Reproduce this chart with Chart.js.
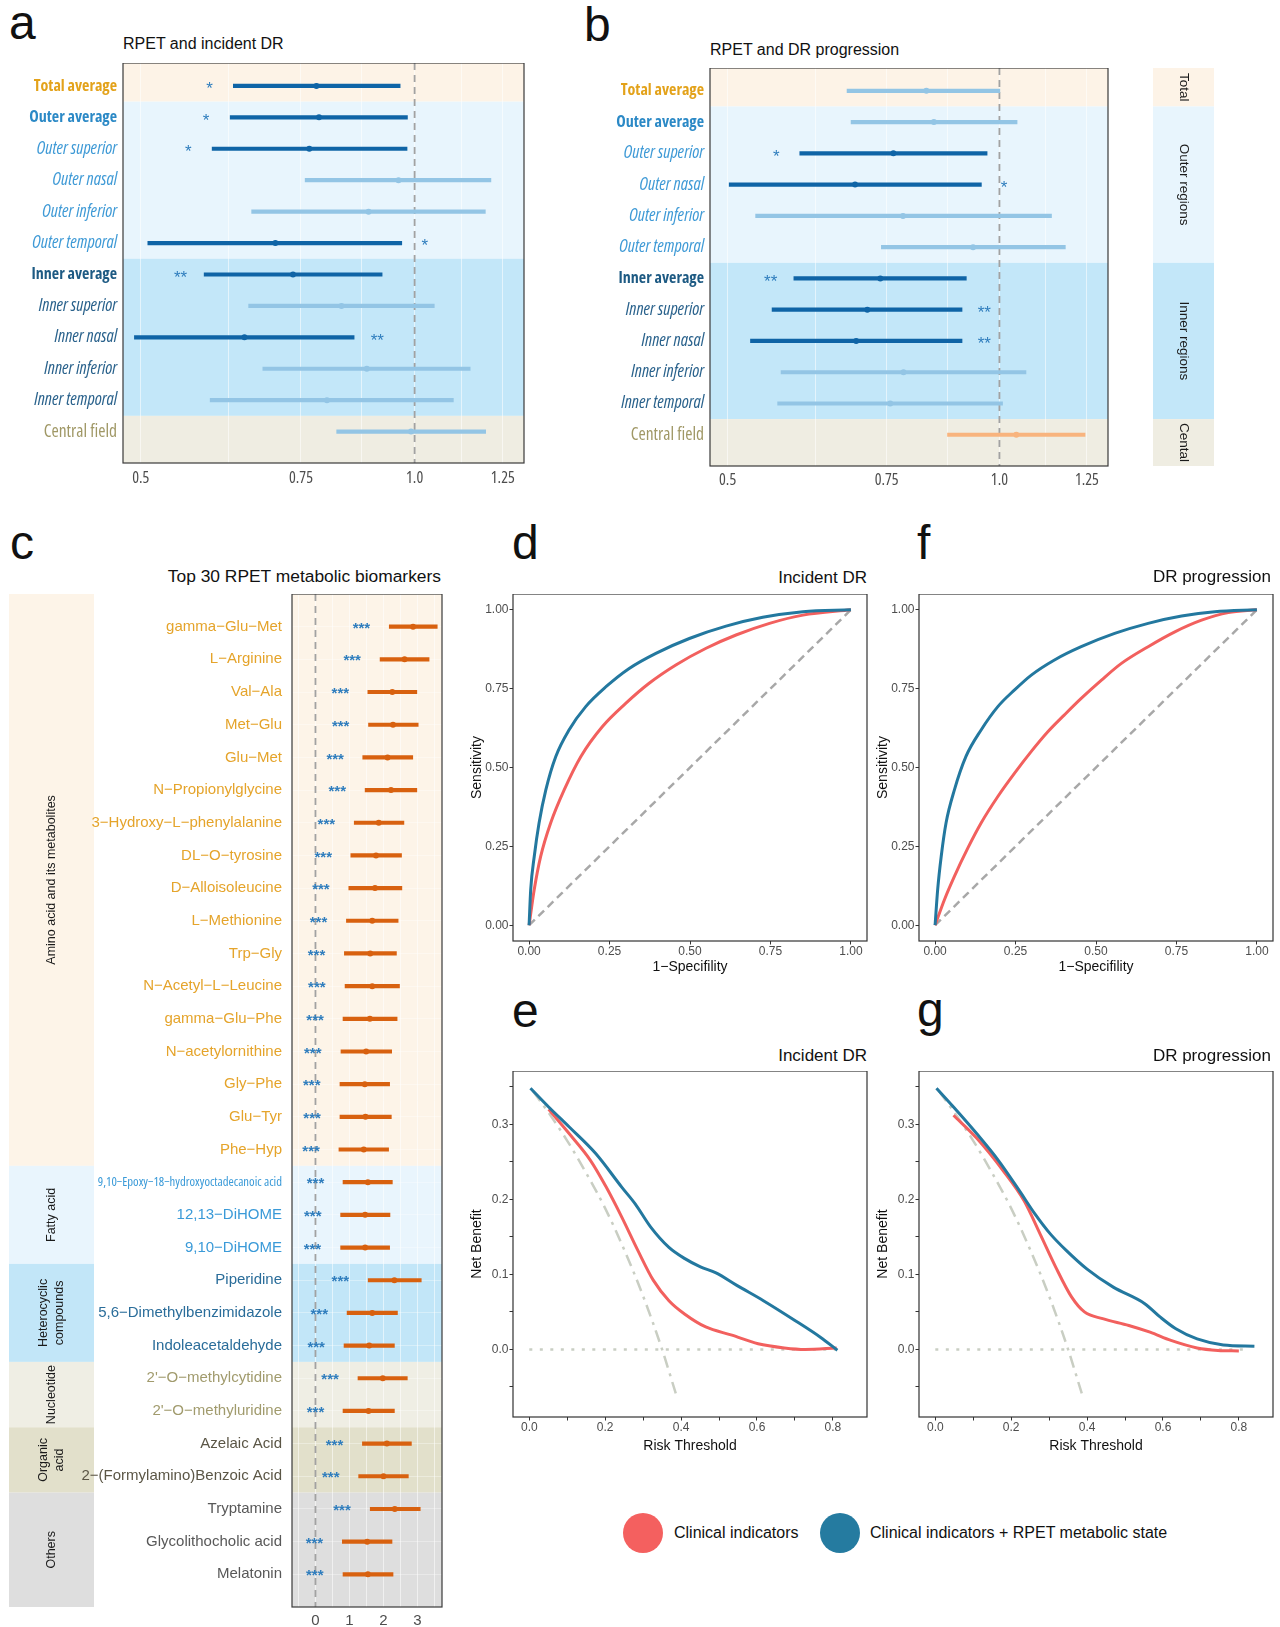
<!DOCTYPE html>
<html>
<head>
<meta charset="utf-8">
<title>RPET figure</title>
<script src="https://cdn.jsdelivr.net/npm/chart.js@4.4.1/dist/chart.umd.min.js"></script>
<style>
  html, body { margin: 0; background: #fff; }
  body { position: relative; width: 1280px; height: 1627px; overflow: hidden; font-family: "Liberation Sans", Arial, sans-serif; }
  canvas { position: absolute; }
  .t { position: absolute; white-space: nowrap; color: #111; }
  .dot { position: absolute; width: 40px; height: 40px; border-radius: 50%; }
</style>
</head>
<body>
<canvas id="pa" width="532" height="430" style="left:0;top:63px"></canvas>
<canvas id="pb" width="660" height="428" style="left:560px;top:68px"></canvas>
<canvas id="pc" width="447" height="1033" style="left:0;top:594px"></canvas>
<canvas id="pd" width="414" height="387" style="left:455px;top:594px"></canvas>
<canvas id="pf" width="414" height="387" style="left:861px;top:594px"></canvas>
<canvas id="pe" width="414" height="386" style="left:455px;top:1071px"></canvas>
<canvas id="pg" width="414" height="386" style="left:861px;top:1071px"></canvas>
<div class="dot" style="left:623px;top:1513px;background:#f4605f"></div>
<div class="dot" style="left:820px;top:1513px;background:#257ba0"></div>
<script>
// a / b: hazard ratios of RPET by retinal region
const regions = ['Total average', 'Outer average', 'Outer superior', 'Outer nasal', 'Outer inferior', 'Outer temporal',
  'Inner average', 'Inner superior', 'Inner nasal', 'Inner inferior', 'Inner temporal', 'Central field'];
const regionGroups = ['Total', 'Outer regions', 'Inner regions', 'Cental'];
const regionGroupEnds = [1, 6, 11, 12];
const hrTicks = [0.5, 0.625, 0.75, 0.875, 1, 1.125, 1.25];
const hrLabels = ['0.5', '', '0.75', '', '1.0', '', '1.25'];

const incEst = [0.780, 0.785, 0.766, 0.960, 0.890, 0.703, 0.735, 0.831, 0.650, 0.886, 0.801, 0.991];
const incLow = [0.632, 0.627, 0.599, 0.758, 0.662, 0.509, 0.587, 0.657, 0.492, 0.681, 0.596, 0.821];
const incHigh = [0.964, 0.982, 0.981, 1.213, 1.196, 0.968, 0.921, 1.051, 0.858, 1.151, 1.103, 1.197];
const incSig = ['*', '*', '*', '', '', '*', '**', '', '**', '', '', ''];
const incSigAt = [0.595, 0.590, 0.564, null, null, 1.026, 0.553, null, 0.910, null, null, null];

const progEst = [0.830, 0.846, 0.763, 0.692, 0.782, 0.935, 0.738, 0.714, 0.694, 0.783, 0.757, 1.044];
const progLow = [0.678, 0.685, 0.601, 0.502, 0.537, 0.740, 0.592, 0.560, 0.530, 0.573, 0.568, 0.876];
const progHigh = [1.001, 1.046, 0.969, 0.955, 1.142, 1.183, 0.919, 0.909, 0.909, 1.070, 1.008, 1.244];
const progSig = ['', '', '*', '*', '', '', '**', '**', '**', '', '', ''];
const progSigAt = [null, null, 0.566, 1.012, null, null, 0.558, 0.962, 0.962, null, null, null];

// c: top 30 metabolites
const metabolites = ['gamma−Glu−Met', 'L−Arginine', 'Val−Ala', 'Met−Glu', 'Glu−Met', 'N−Propionylglycine',
  '3−Hydroxy−L−phenylalanine', 'DL−O−tyrosine', 'D−Alloisoleucine', 'L−Methionine', 'Trp−Gly', 'N−Acetyl−L−Leucine',
  'gamma−Glu−Phe', 'N−acetylornithine', 'Gly−Phe', 'Glu−Tyr', 'Phe−Hyp', '9,10−Epoxy−18−hydroxyoctadecanoic acid',
  '12,13−DiHOME', '9,10−DiHOME', 'Piperidine', '5,6−Dimethylbenzimidazole', 'Indoleacetaldehyde',
  "2'−O−methylcytidine", "2'−O−methyluridine", 'Azelaic Acid', '2−(Formylamino)Benzoic Acid', 'Tryptamine',
  'Glycolithocholic acid', 'Melatonin'];
const metaEst = [2.87, 2.62, 2.26, 2.28, 2.12, 2.22, 1.86, 1.78, 1.75, 1.67, 1.61, 1.67, 1.60, 1.49, 1.45, 1.47, 1.42,
  1.54, 1.46, 1.46, 2.32, 1.67, 1.58, 1.98, 1.56, 2.10, 2.00, 2.33, 1.52, 1.54];
const metaLow = [2.17, 1.90, 1.54, 1.56, 1.39, 1.46, 1.14, 1.04, 0.98, 0.91, 0.85, 0.87, 0.81, 0.75, 0.72, 0.72, 0.69,
  0.81, 0.74, 0.74, 1.55, 0.93, 0.84, 1.25, 0.81, 1.38, 1.27, 1.61, 0.79, 0.81];
const metaHigh = [3.58, 3.34, 2.98, 3.02, 2.86, 2.98, 2.60, 2.53, 2.54, 2.43, 2.38, 2.47, 2.40, 2.24, 2.18, 2.23, 2.15,
  2.26, 2.19, 2.18, 3.11, 2.41, 2.32, 2.70, 2.32, 2.82, 2.73, 3.08, 2.25, 2.28];
const metaSig = metabolites.map(() => '***');
const metaSigAt = [1.35, 1.08, 0.73, 0.74, 0.58, 0.64, 0.32, 0.23, 0.16, 0.09, 0.03, 0.04, -0.01, -0.08, -0.11, -0.10,
  -0.13, 0.0, -0.08, -0.09, 0.73, 0.11, 0.02, 0.43, 0.0, 0.56, 0.45, 0.78, -0.03, -0.02];
const metaClasses = ['Amino acid and its metabolites', 'Fatty acid', 'Heterocyclic\ncompounds', 'Nucleotide', 'Organic\nacid', 'Others'];
const metaClassEnds = [17, 20, 23, 25, 27, 30];
const metaTicks = [-0.5, 0, 0.5, 1, 1.5, 2, 2.5, 3, 3.5];
const metaTickLabels = ['', '0', '', '1', '', '2', '', '3', ''];

// d / f: ROC curves
const rocTicks = [0, 0.25, 0.5, 0.75, 1];
const rocTickLabels = ['0.00', '0.25', '0.50', '0.75', '1.00'];
const rocIncBaseX = [0, 0.016, 0.036, 0.067, 0.109, 0.161, 0.228, 0.301, 0.373, 0.456, 0.55, 0.643, 0.747, 0.851, 1];
const rocIncBaseY = [0, 0.113, 0.218, 0.324, 0.429, 0.535, 0.63, 0.704, 0.767, 0.825, 0.878, 0.92, 0.957, 0.983, 1];
const rocIncFullX = [0, 0.005, 0.016, 0.031, 0.052, 0.083, 0.124, 0.176, 0.239, 0.311, 0.394, 0.498, 0.612, 0.726, 0.851, 1];
const rocIncFullY = [0, 0.113, 0.218, 0.324, 0.429, 0.535, 0.619, 0.693, 0.756, 0.814, 0.862, 0.909, 0.948, 0.976, 0.994, 1];
const rocProgBaseX = [0, 0.029, 0.06, 0.102, 0.143, 0.195, 0.247, 0.299, 0.351, 0.402, 0.454, 0.517, 0.579, 0.662, 0.745, 0.828, 0.911, 1];
const rocProgBaseY = [0, 0.081, 0.155, 0.245, 0.324, 0.408, 0.482, 0.551, 0.614, 0.667, 0.719, 0.777, 0.83, 0.883, 0.93, 0.967, 0.991, 1];
const rocProgFullX = [0, 0.008, 0.019, 0.034, 0.06, 0.096, 0.143, 0.195, 0.247, 0.299, 0.371, 0.454, 0.558, 0.662, 0.766, 0.869, 1];
const rocProgFullY = [0, 0.113, 0.218, 0.324, 0.429, 0.535, 0.619, 0.693, 0.746, 0.793, 0.841, 0.883, 0.925, 0.957, 0.98, 0.994, 1];
const rocChanceX = [0, 1];
const rocChanceY = [0, 1];

// e / g: decision curves
const dcaXTicks = [0, 0.1, 0.2, 0.3, 0.4, 0.5, 0.6, 0.7, 0.8];
const dcaXLabels = ['0.0', '', '0.2', '', '0.4', '', '0.6', '', '0.8'];
const dcaYTicks = [-0.05, 0, 0.05, 0.1, 0.15, 0.2, 0.25, 0.3, 0.35];
const dcaYLabels = ['', '0.0', '', '0.1', '', '0.2', '', '0.3', ''];
const dcaIncFullX = [0.003, 0.051, 0.106, 0.175, 0.244, 0.279, 0.32, 0.368, 0.41, 0.451, 0.492, 0.548, 0.617, 0.699, 0.768, 0.812];
const dcaIncFullY = [0.348, 0.323, 0.296, 0.261, 0.216, 0.194, 0.163, 0.136, 0.121, 0.11, 0.102, 0.085, 0.065, 0.039, 0.016, -0.001];
const dcaIncBaseX = [0.051, 0.106, 0.161, 0.203, 0.244, 0.286, 0.327, 0.368, 0.41, 0.465, 0.534, 0.603, 0.672, 0.727, 0.81];
const dcaIncBaseY = [0.320, 0.287, 0.252, 0.216, 0.176, 0.132, 0.092, 0.065, 0.047, 0.030, 0.019, 0.0075, 0.002, 0.0, 0.002];
const dcaProgFullX = [0.003, 0.048, 0.11, 0.166, 0.221, 0.262, 0.303, 0.345, 0.4, 0.469, 0.552, 0.593, 0.634, 0.69, 0.759, 0.841];
const dcaProgFullY = [0.348, 0.323, 0.287, 0.252, 0.212, 0.181, 0.154, 0.132, 0.107, 0.083, 0.061, 0.043, 0.0275, 0.014, 0.006, 0.0044];
const dcaProgBaseX = [0.048, 0.11, 0.179, 0.234, 0.276, 0.317, 0.359, 0.393, 0.441, 0.51, 0.566, 0.621, 0.69, 0.745, 0.8];
const dcaProgBaseY = [0.312, 0.281, 0.238, 0.198, 0.154, 0.110, 0.070, 0.050, 0.041, 0.032, 0.023, 0.012, 0.002, -0.0013, -0.002];
const dcaAllX = [0.01, 0.05, 0.1, 0.15, 0.2, 0.25, 0.3, 0.35, 0.388];
const dcaAllY = [0.344, 0.316, 0.278, 0.235, 0.188, 0.133, 0.071, 0.0, -0.062];
const dcaIncNoneX = [0, 0.82];
const dcaProgNoneX = [0, 0.83];
const dcaNoneY = [0, 0];

const legendNames = ['Clinical indicators', 'Clinical indicators + RPET metabolic state'];

// ---- styles ----
const SANS = '"Liberation Sans", Arial, sans-serif';
const DARK = '#0f64a6', LIGHT = '#93c5e5', WARM = '#f8b47e';
const RED = '#f2605e', BLUE = '#23789f';
const STAR = '#2f7dbd';
const regionBands = ['#fdf3e7', '#e8f5fd', '#c3e7f9', '#efede2'];
const regionLabelColors = [['#e3a21a', '#e3a21a'], ['#2b89c6', '#3f9ad6'], ['#1d5a83', '#2a628c'], ['#a09866', '#a09866']];
const metaBands = ['#fdf4e8', '#e9f5fd', '#c2e6f8', '#efeee4', '#e2e0cb', '#dedede'];
const metaLabelColors = ['#e5a42b', '#3a9ad8', '#2a6d9a', '#a19b6d', '#5b5646', '#585858'];

// the axis text of a/b is condensed; use a stretched Open Sans when the canvas can do it
const probe = document.createElement('canvas').getContext('2d');
probe.font = '16px "Open Sans"';
const wideW = probe.measureText('Outer superior').width;
probe.font = 'normal normal condensed 16px "Open Sans"';
const HAS_COND = probe.measureText('Outer superior').width < wideW * 0.9;
function narrow(size, weight, style) {
  return HAS_COND
    ? { family: '"Open Sans", sans-serif', size, weight: (weight || 'normal') + ' condensed', style: style || 'normal' }
    : { family: SANS, size: Math.round(size * 0.84), weight: weight || 'normal', style: style || 'normal' };
}

Chart.defaults.animation = false;
Chart.defaults.events = [];
Chart.defaults.font.family = SANS;
Chart.defaults.layout.autoPadding = false;
Chart.defaults.plugins.legend.display = false;
Chart.defaults.plugins.tooltip.enabled = false;

const groupOf = (ends, i) => Math.max(0, ends.findIndex(e => (i || 0) + 1 <= e));
const xy = (xs, ys) => xs.map((x, i) => ({ x, y: ys[i] }));

// fixed axis size and no label overhang padding, so the plot box lands where the canvas says
function fixAxis(size, horizontal) {
  return s => {
    if (horizontal) s.height = size; else s.width = size;
    s.paddingTop = 0; s.paddingBottom = 0; s.paddingLeft = 0; s.paddingRight = 0;
  };
}

function frame(color) {
  return {
    id: 'frame',
    afterDraw(chart) {
      const { ctx, chartArea: a } = chart;
      ctx.save();
      ctx.strokeStyle = color;
      ctx.lineWidth = 1.2;
      ctx.strokeRect(a.left, a.top, a.right - a.left, a.bottom - a.top);
      ctx.restore();
    }
  };
}

// shaded row groups, with an optional labelled strip beside the panel
function bands(ends, colors, strip) {
  return {
    id: 'bands',
    beforeDraw(chart) {
      const { ctx, chartArea: a, scales: { y } } = chart;
      ctx.save();
      ends.forEach((end, i) => {
        const y0 = i === 0 ? a.top : y.getPixelForValue(ends[i - 1] + 0.5);
        const y1 = i === ends.length - 1 ? a.bottom : y.getPixelForValue(end + 0.5);
        ctx.fillStyle = colors[i];
        ctx.fillRect(a.left, y0, a.right - a.left, y1 - y0);
        if (!strip) return;
        const x0 = strip.x0(a), x1 = strip.x1(a);
        ctx.fillRect(x0, y0, x1 - x0, y1 - y0);
        const lines = strip.text[i].split('\n');
        ctx.save();
        ctx.translate((x0 + x1) / 2, (y0 + y1) / 2);
        ctx.rotate(strip.angle);
        ctx.fillStyle = '#1a1a1a';
        ctx.font = strip.font;
        ctx.textAlign = 'center';
        ctx.textBaseline = 'middle';
        lines.forEach((t, k) => ctx.fillText(t, 0, (k - (lines.length - 1) / 2) * strip.lh));
        ctx.restore();
      });
      ctx.restore();
    }
  };
}

function refLine(value) {
  return {
    id: 'refline',
    beforeDatasetsDraw(chart) {
      const { ctx, chartArea: a, scales: { x } } = chart;
      const px = x.getPixelForValue(value);
      ctx.save();
      ctx.strokeStyle = '#a2a2a2';
      ctx.lineWidth = 1.8;
      ctx.setLineDash([7, 5]);
      ctx.beginPath();
      ctx.moveTo(px, a.top);
      ctx.lineTo(px, a.bottom);
      ctx.stroke();
      ctx.restore();
    }
  };
}

function stars(marks, at, font, dy) {
  return {
    id: 'stars',
    afterDatasetsDraw(chart) {
      const { ctx, scales: { x, y } } = chart;
      ctx.save();
      ctx.fillStyle = STAR;
      ctx.font = font + ' ' + SANS;
      ctx.textAlign = 'center';
      ctx.textBaseline = 'middle';
      marks.forEach((m, i) => {
        if (m) ctx.fillText(m, x.getPixelForValue(at[i]), y.getPixelForValue(i + 1) + dy);
      });
      ctx.restore();
    }
  };
}

function forest(id, names, est, low, high, opt) {
  const rows = names.map((_, i) => i + 1);
  return new Chart(document.getElementById(id), {
    type: 'bar',
    data: {
      datasets: [
        { type: 'bar', data: rows.map((r, i) => ({ x: [low[i], high[i]], y: r })), backgroundColor: opt.tone, barThickness: 3.5, borderWidth: 0 },
        { type: 'scatter', data: rows.map((r, i) => ({ x: est[i], y: r })), backgroundColor: opt.tone, pointRadius: 3, borderWidth: 0 }
      ]
    },
    options: {
      responsive: false,
      devicePixelRatio: 1,
      indexAxis: 'y',
      layout: { autoPadding: false, padding: { top: 0, left: 0, bottom: 0, right: opt.padRight } },
      scales: {
        x: {
          type: opt.xType, min: opt.xMin, max: opt.xMax, offset: false,
          afterBuildTicks: s => { s.ticks = opt.xTicks.map(v => ({ value: v })); },
          afterFit: fixAxis(opt.xHeight, true),
          grid: { color: 'rgba(255,255,255,0.55)', drawTicks: false, offset: false },
          border: { display: false },
          ticks: { autoSkip: false, maxRotation: 0, padding: opt.xPad, color: '#4d4d4d', font: opt.xFont, callback: (v, i) => opt.xLabels[i] }
        },
        y: {
          type: 'linear', reverse: true, min: opt.yMin, max: opt.yMax, offset: false,
          afterBuildTicks: s => { s.ticks = rows.map(v => ({ value: v })); },
          afterFit: fixAxis(opt.yWidth, false),
          grid: { display: opt.yGrid, color: 'rgba(255,255,255,0.35)', drawTicks: false, offset: false },
          border: { display: false },
          ticks: { autoSkip: false, padding: opt.yPad, callback: (v, i) => names[i], color: opt.labelColor, font: opt.labelFont }
        }
      }
    },
    plugins: [bands(opt.ends, opt.bandColors, opt.strip), refLine(opt.ref), stars(opt.sig, opt.sigAt, opt.starFont, opt.starDy), frame('#3a3a3a')]
  });
}

function regionOptions(est, sig, sigAt, extra) {
  return Object.assign({
    tone: est.map((e, i) => sig[i] ? DARK : (e > 1 ? WARM : LIGHT)),
    xType: 'logarithmic', xMin: 0.478, xMax: 1.319, xTicks: hrTicks, xLabels: hrLabels,
    xHeight: 30, xPad: 6, xFont: narrow(16),
    yMin: 0.27, yMax: 13.0, yPad: 6, yGrid: false,
    labelColor: c => {
      const g = groupOf(regionGroupEnds, c.index);
      return regionLabelColors[g][/average/.test(regions[c.index] || '') ? 0 : 1];
    },
    labelFont: c => {
      const g = groupOf(regionGroupEnds, c.index);
      const avg = /average/.test(regions[c.index] || '');
      return avg ? narrow(16, 'bold') : narrow(17.5, 'normal', (g === 1 || g === 2) ? 'italic' : 'normal');
    },
    ends: regionGroupEnds, bandColors: regionBands, ref: 1,
    sig, sigAt, starFont: '17px', starDy: 3.5
  }, extra);
}

forest('pa', regions, incEst, incLow, incHigh, regionOptions(incEst, incSig, incSigAt, { padRight: 8, yWidth: 123, strip: null }));

forest('pb', regions, progEst, progLow, progHigh, regionOptions(progEst, progSig, progSigAt, {
  padRight: 112, yWidth: 150, xPad: 5,
  strip: { x0: a => a.right + 45, x1: a => a.right + 106, text: regionGroups, angle: Math.PI / 2, font: '13.5px ' + SANS, lh: 16 }
}));

forest('pc', metabolites, metaEst, metaLow, metaHigh, {
  tone: metabolites.map(() => '#d8610f'),
  xType: 'linear', xMin: -0.69, xMax: 3.72, xTicks: metaTicks, xLabels: metaTickLabels,
  xHeight: 20, xPad: 5, xFont: { family: SANS, size: 15 },
  yMin: 0, yMax: 31, yPad: 10, yWidth: 292, yGrid: true, padRight: 5,
  labelColor: c => metaLabelColors[groupOf(metaClassEnds, c.index)],
  labelFont: c => (metabolites[c.index] || '').length > 30 ? narrow(12.7) : { family: SANS, size: 15 },
  ends: metaClassEnds, bandColors: metaBands, ref: 0,
  strip: { x0: () => 9, x1: () => 94, text: metaClasses, angle: -Math.PI / 2, font: '12.5px ' + SANS, lh: 16.5 },
  sig: metaSig, sigAt: metaSigAt, starFont: 'bold 15px', starDy: 2
});

function axis(o, dir) {
  return {
    type: 'linear', min: o.min, max: o.max,
    afterBuildTicks: s => { s.ticks = o.ticks.map(v => ({ value: v })); },
    afterFit: dir === 'x' ? fixAxis(40, true) : fixAxis(58, false),
    grid: { drawOnChartArea: false, drawTicks: true, tickLength: 3.5, color: '#333' },
    border: { display: false },
    ticks: { autoSkip: false, maxRotation: 0, padding: dir === 'x' ? 0 : 1, color: '#4d4d4d', font: { size: 12 }, callback: (v, i) => o.labels[i] },
    title: { display: true, text: o.title, color: '#111', font: { size: 14 }, padding: dir === 'x' ? { top: 0, bottom: o.pad } : { top: 13.3, bottom: 0 } }
  };
}

function curves(id, sets, xs, ys) {
  return new Chart(document.getElementById(id), {
    type: 'line',
    data: {
      datasets: sets.map(s => ({
        data: s.data, borderColor: s.color, borderWidth: s.width, borderDash: s.dash || [],
        pointRadius: 0, fill: false, cubicInterpolationMode: 'monotone', borderCapStyle: 'butt'
      }))
    },
    options: {
      responsive: false,
      devicePixelRatio: 1,
      layout: { autoPadding: false, padding: { top: 0, left: 0, bottom: 0, right: 2 } },
      scales: { x: axis(xs, 'x'), y: axis(ys, 'y') }
    },
    plugins: [frame('#333')]
  });
}

const rocX = pad => ({ min: -0.05, max: 1.05, ticks: rocTicks, labels: rocTickLabels, title: '1−Specifility', pad });
const rocY = { min: -0.05, max: 1.05, ticks: rocTicks, labels: rocTickLabels, title: 'Sensitivity' };
const dcaX = pad => ({ min: -0.043, max: 0.89, ticks: dcaXTicks, labels: dcaXLabels, title: 'Risk Threshold', pad });
const dcaY = { min: -0.09, max: 0.371, ticks: dcaYTicks, labels: dcaYLabels, title: 'Net Benefit' };
const chance = { data: xy(rocChanceX, rocChanceY), color: '#a8a8a8', width: 2.5, dash: [8, 5] };
const treatAll = { data: xy(dcaAllX, dcaAllY), color: '#c9cec3', width: 2.5, dash: [12, 6, 3, 6] };

curves('pd', [
  { data: xy(rocIncFullX, rocIncFullY), color: BLUE, width: 3 },
  { data: xy(rocIncBaseX, rocIncBaseY), color: RED, width: 3 },
  chance
], rocX(5.3), rocY);

curves('pf', [
  { data: xy(rocProgFullX, rocProgFullY), color: BLUE, width: 3 },
  { data: xy(rocProgBaseX, rocProgBaseY), color: RED, width: 3 },
  chance
], rocX(5.3), rocY);

curves('pe', [
  { data: xy(dcaIncFullX, dcaIncFullY), color: BLUE, width: 3 },
  { data: xy(dcaIncBaseX, dcaIncBaseY), color: RED, width: 3 },
  treatAll,
  { data: xy(dcaIncNoneX, dcaNoneY), color: '#c9cec3', width: 2.5, dash: [3, 7.5] }
], dcaX(2.6), dcaY);

curves('pg', [
  { data: xy(dcaProgFullX, dcaProgFullY), color: BLUE, width: 3 },
  { data: xy(dcaProgBaseX, dcaProgBaseY), color: RED, width: 3 },
  treatAll,
  { data: xy(dcaProgNoneX, dcaNoneY), color: '#c9cec3', width: 2.5, dash: [3, 7.5] }
], dcaX(2.6), dcaY);

// panel letters, titles and legend text
function text(str, x, base, size, right) {
  const d = document.createElement('div');
  d.className = 't';
  d.textContent = str;
  d.style.fontSize = size + 'px';
  d.style.lineHeight = size + 'px';
  d.style.left = x + 'px';
  d.style.top = (base - 0.8465 * size) + 'px';
  if (right) d.style.transform = 'translateX(-100%)';
  document.body.appendChild(d);
}
text('a', 9, 39.5, 48);
text('b', 584, 42, 48);
text('c', 10, 559.5, 48);
text('d', 512, 560, 48);
text('f', 917, 560, 48);
text('e', 512, 1028, 48);
text('g', 917, 1027, 48);
text('RPET and incident DR', 123, 49.7, 16);
text('RPET and DR progression', 710, 55.7, 16);
text('Top 30 RPET metabolic biomarkers', 441, 583, 17.4, true);
text('Incident DR', 867, 583.8, 17, true);
text('DR progression', 1271, 582.8, 17, true);
text('Incident DR', 867, 1061, 17, true);
text('DR progression', 1271, 1061, 17, true);
text(legendNames[0], 674, 1539, 16);
text(legendNames[1], 870, 1539, 16);
</script>
</body>
</html>
